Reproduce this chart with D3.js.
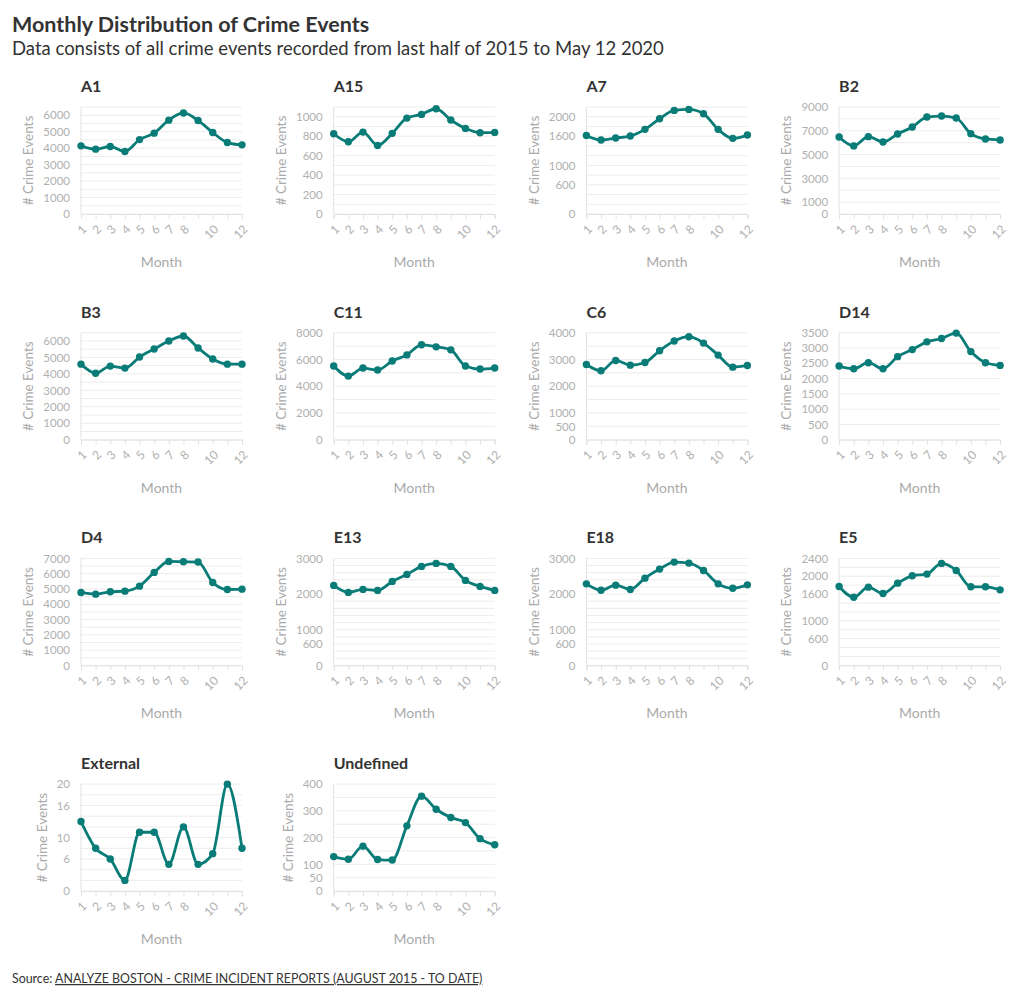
<!DOCTYPE html>
<html>
<head>
<meta charset="utf-8">
<script src="https://cdn.jsdelivr.net/npm/d3@7"></script>
<style>
  html, body { margin: 0; padding: 0; background: #fff; }
  svg { display: block; font-family: Lato, "Noto Sans", sans-serif; }
</style>
</head>
<body>
<svg id="chart" width="1020" height="998"></svg>
<script>
// ---------- DATA ----------
const months = [1, 2, 3, 4, 5, 6, 7, 8, 9, 10, 11, 12];
const monthTickLabels = [1, 2, 3, 4, 5, 6, 7, 8, 10, 12];
const districts = ["A1", "A15", "A7", "B2", "B3", "C11", "C6", "D14", "D4", "E13", "E18", "E5", "External", "Undefined"];

const seriesA1  = [4140, 3940, 4100, 3800, 4520, 4910, 5700, 6140, 5680, 4950, 4340, 4200];
const seriesA15 = [825, 743, 842, 705, 829, 986, 1024, 1082, 966, 880, 836, 839];
const seriesA7  = [1616, 1521, 1562, 1603, 1740, 1959, 2130, 2151, 2062, 1740, 1555, 1623];
const seriesB2  = [6480, 5726, 6508, 6061, 6732, 7318, 8156, 8240, 8073, 6760, 6313, 6229];
const seriesB3  = [4590, 4040, 4470, 4350, 5020, 5510, 6000, 6300, 5570, 4900, 4590, 4590];
const seriesC11 = [5510, 4755, 5358, 5208, 5887, 6340, 7094, 6943, 6717, 5509, 5283, 5358];
const seriesC6  = [2812, 2575, 2962, 2787, 2887, 3325, 3687, 3850, 3612, 3162, 2712, 2775];
const seriesD14 = [2409, 2321, 2519, 2321, 2717, 2948, 3201, 3311, 3487, 2882, 2519, 2431];
const seriesD4  = [4770, 4661, 4814, 4858, 5186, 6083, 6805, 6783, 6761, 5427, 4967, 4989];
const seriesE13 = [2243, 2047, 2131, 2103, 2355, 2551, 2776, 2860, 2776, 2383, 2215, 2103];
const seriesE18 = [2287, 2109, 2250, 2128, 2446, 2700, 2896, 2868, 2662, 2287, 2165, 2259];
const seriesE5  = [1770, 1530, 1755, 1613, 1845, 2010, 2048, 2288, 2130, 1763, 1763, 1695];
const seriesExternal  = [13, 8, 6, 2, 11, 11, 5, 12, 5, 7, 20, 8];
const seriesUndefined = [129, 119, 168, 118, 116, 244, 355, 306, 275, 256, 196, 173];

// y-axis extents, gridline steps and labelled ticks per district
const yMaxList   = [6500, 1100, 2200, 9000, 6500, 8000, 4000, 3500, 7000, 3000, 3000, 2400, 20, 400];
const gridStepList = [500, 100, 200, 1000, 500, 1000, 500, 500, 500, 200, 200, 200, 2, 50];
const yTicksA1  = [0, 1000, 2000, 3000, 4000, 5000, 6000];
const yTicksA15 = [0, 200, 400, 600, 800, 1000];
const yTicksA7  = [0, 600, 1000, 1600, 2000];
const yTicksB2  = [0, 1000, 3000, 5000, 7000, 9000];
const yTicksB3  = [0, 1000, 2000, 3000, 4000, 5000, 6000];
const yTicksC11 = [0, 2000, 4000, 6000, 8000];
const yTicksC6  = [0, 500, 1000, 2000, 3000, 4000];
const yTicksD14 = [0, 500, 1000, 1500, 2000, 2500, 3000, 3500];
const yTicksD4  = [0, 1000, 2000, 3000, 4000, 5000, 6000, 7000];
const yTicksE13 = [0, 600, 1000, 2000, 3000];
const yTicksE18 = [0, 600, 1000, 2000, 3000];
const yTicksE5  = [0, 600, 1000, 1600, 2000, 2400];
const yTicksExternal  = [0, 6, 10, 16, 20];
const yTicksUndefined = [0, 50, 100, 200, 300, 400];

const titleText = "Monthly Distribution of Crime Events";
const subtitleText = "Data consists of all crime events recorded from last half of 2015 to May 12 2020";
const sourceLabel = "Source: ";
const sourceLink = "ANALYZE BOSTON - CRIME INCIDENT REPORTS (AUGUST 2015 - TO DATE)";
const xTitle = "Month";
const yTitle = "# Crime Events";

const seriesList = [seriesA1, seriesA15, seriesA7, seriesB2, seriesB3, seriesC11, seriesC6, seriesD14,
  seriesD4, seriesE13, seriesE18, seriesE5, seriesExternal, seriesUndefined];
const yTickList = [yTicksA1, yTicksA15, yTicksA7, yTicksB2, yTicksB3, yTicksC11, yTicksC6, yTicksD14,
  yTicksD4, yTicksE13, yTicksE18, yTicksE5, yTicksExternal, yTicksUndefined];

// ---------- DRAW ----------
const svg = d3.select("#chart");
const lineColor = "#0a7c78";
const textDark = "#333333";
const axisGray = "#aaaaaa";

svg.append("text").attr("x", 12).attr("y", 32)
  .attr("font-size", 21.5).attr("font-weight", 700).attr("fill", textDark).text(titleText);
svg.append("text").attr("x", 12).attr("y", 55)
  .attr("font-size", 18.5).attr("fill", textDark).text(subtitleText);

const colW = 252.7, rowH = 225.7, plotW = 161, plotH = 107;

districts.forEach((name, i) => {
  const col = i % 4, row = Math.floor(i / 4);
  const left = 81 + col * colW, right = left + plotW;
  const top = 107 + row * rowH, bottom = top + plotH;
  const yMax = yMaxList[i];
  const x = d3.scaleLinear().domain([1, 12]).range([left, right]);
  const y = d3.scaleLinear().domain([0, yMax]).range([bottom, top]);
  const g = svg.append("g");

  // gridlines
  const grid = d3.range(0, yMax + 1e-9, gridStepList[i]);
  g.append("g").selectAll("line").data(grid).join("line")
    .attr("x1", left).attr("x2", right)
    .attr("y1", d => y(d)).attr("y2", d => y(d))
    .attr("stroke", "#ececec").attr("stroke-width", 1);

  // y-axis line
  g.append("line").attr("x1", left).attr("x2", left).attr("y1", top).attr("y2", bottom)
    .attr("stroke", "#e2e2e2");

  // y axis labels
  const yAxis = g.append("g").attr("transform", `translate(${left},0)`)
    .call(d3.axisLeft(y).tickValues(yTickList[i]).tickSize(0).tickPadding(11).tickFormat(d3.format("d")));
  yAxis.select(".domain").remove();
  yAxis.selectAll("text").attr("fill", "#b0b0b0").attr("font-size", 11.5)
    .attr("font-family", "Lato, 'Noto Sans', sans-serif");
  let maxW = 0;
  yAxis.selectAll("text").each(function () { maxW = Math.max(maxW, this.getComputedTextLength()); });

  // x axis
  const xAxis = g.append("g").attr("transform", `translate(0,${bottom})`)
    .call(d3.axisBottom(x).tickValues(months).tickSize(5)
      .tickFormat(d => monthTickLabels.includes(d) ? String(d) : ""));
  xAxis.select(".domain").attr("stroke", "#e2e2e2");
  xAxis.selectAll(".tick line").attr("stroke", "#e2e2e2");
  xAxis.selectAll("text")
    .attr("fill", "#b0b0b0").attr("font-size", 12)
    .attr("font-family", "Lato, 'Noto Sans', sans-serif")
    .attr("x", 0).attr("y", 0).attr("dy", "0.35em")
    .attr("text-anchor", "end")
    .attr("transform", "translate(3,13) rotate(-45)");

  // axis titles
  g.append("text").attr("x", (left + right) / 2).attr("y", bottom + 53)
    .attr("text-anchor", "middle").attr("font-size", 14).attr("fill", axisGray).text(xTitle);
  const yx = left - 11 - maxW - 10;
  g.append("text").attr("transform", `translate(${yx},${(top + bottom) / 2}) rotate(-90)`)
    .attr("text-anchor", "middle").attr("font-size", 13.5).attr("fill", axisGray).text(yTitle);

  // panel title
  g.append("text").attr("x", left).attr("y", top - 15)
    .attr("font-size", 16).attr("font-weight", 700).attr("fill", textDark).text(name);

  // line + points
  const data = months.map((m, k) => ({ m, v: seriesList[i][k] }));
  const line = d3.line().x(d => x(d.m)).y(d => y(d.v)).curve(d3.curveMonotoneX);
  g.append("path").datum(data).attr("d", line)
    .attr("fill", "none").attr("stroke", lineColor).attr("stroke-width", 2.8)
    .attr("stroke-linejoin", "round");
  g.append("g").selectAll("circle").data(data).join("circle")
    .attr("cx", d => x(d.m)).attr("cy", d => y(d.v)).attr("r", 3.7).attr("fill", lineColor);
});

// source
const src = svg.append("text").attr("x", 12).attr("y", 983).attr("font-size", 12.4).attr("fill", textDark);
src.append("tspan").text(sourceLabel);
src.append("tspan").attr("text-decoration", "underline").text(sourceLink);
</script>
</body>
</html>
